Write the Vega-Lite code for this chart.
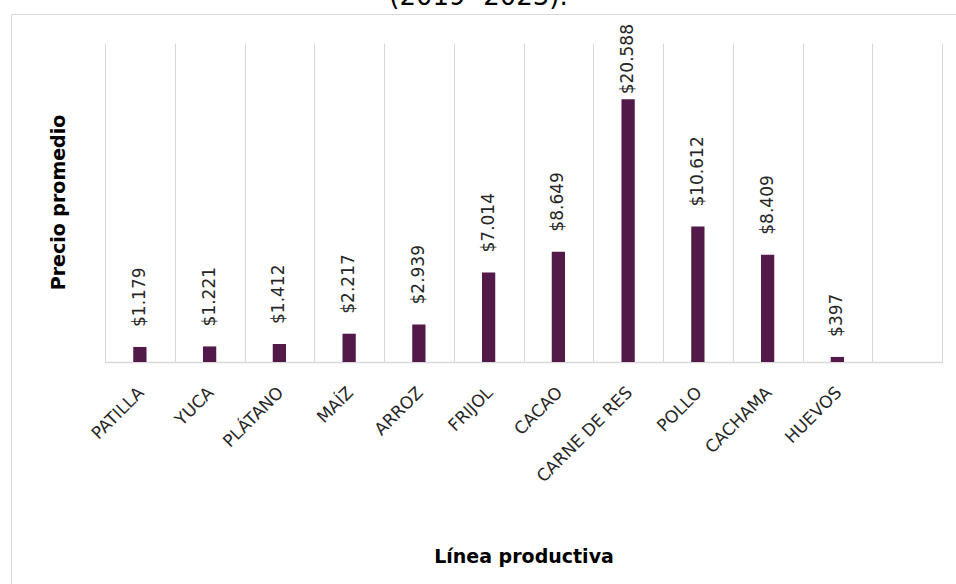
{
  "$schema": "https://vega.github.io/schema/vega-lite/v6.json",
  "width": 945,
  "height": 570,
  "autosize": {"type": "none"},
  "padding": {"left": 11, "top": 14, "right": 0, "bottom": 0},
  "background": "white",
  "title": {"text": "(2019 -2023).", "font": "DejaVu Sans", "fontSize": 26, "fontWeight": "normal", "color": "#000000", "anchor": "middle", "baseline": "bottom", "offset": -22, "dx": -5},
  "data": {"values": [
    {"linea": "PATILLA", "precio": 1179},
    {"linea": "YUCA", "precio": 1221},
    {"linea": "PLÁTANO", "precio": 1412},
    {"linea": "MAÍZ", "precio": 2217},
    {"linea": "ARROZ", "precio": 2939},
    {"linea": "FRIJOL", "precio": 7014},
    {"linea": "CACAO", "precio": 8649},
    {"linea": "CARNE DE RES", "precio": 20588},
    {"linea": "POLLO", "precio": 10612},
    {"linea": "CACHAMA", "precio": 8409},
    {"linea": "HUEVOS", "precio": 397}
  ]},
  "encoding": {
    "y": {
      "field": "precio", "type": "quantitative",
      "scale": {"domain": [0, 25000], "range": [348, 29], "nice": false, "zero": true},
      "axis": {"title": "Precio promedio", "labels": false, "ticks": false, "domain": false, "grid": false,
               "titleFont": "DejaVu Sans", "titleFontSize": 19, "titleFontWeight": "bold", "titleColor": "#000000",
               "titleAngle": -90, "titleX": 53, "titleY": 188, "titleAlign": "center", "titleBaseline": "alphabetic"}
    }
  },
  "layer": [
    {
      "mark": {"type": "bar", "color": "#521949", "width": {"band": 0.19}},
      "encoding": {
        "x": {
          "field": "linea", "type": "nominal", "sort": null,
          "scale": {"domain": ["PATILLA", "YUCA", "PLÁTANO", "MAÍZ", "ARROZ", "FRIJOL", "CACAO", "CARNE DE RES", "POLLO", "CACHAMA", "HUEVOS", " "],
                    "range": [94, 931], "paddingInner": 0, "paddingOuter": 0},
          "axis": {"orient": "bottom", "offset": -222, "title": "Línea productiva", "grid": false, "ticks": false,
                   "domain": true, "domainColor": "#d9d9d9", "domainWidth": 1.5,
                   "labelAngle": -45, "labelAlign": "right", "labelBaseline": "top", "labelPadding": 22, "labelOffset": -4,
                   "labelFont": "DejaVu Sans", "labelFontSize": 17, "labelColor": "#262626", "labelOverlap": false,
                   "titleFont": "DejaVu Sans", "titleFontSize": 19, "titleFontWeight": "bold", "titleColor": "#000000",
                   "titleX": 512.5, "titleY": 200, "titleAlign": "center", "titleBaseline": "alphabetic", "titleAngle": 0}
        }
      }
    },
    {
      "transform": [{"filter": "datum.precio <= 20000"}],
      "mark": {"type": "text", "angle": 270, "align": "left", "baseline": "middle", "dx": 20, "font": "DejaVu Sans", "fontSize": 17, "color": "#262626"},
      "encoding": {
        "x": {
          "field": "linea", "type": "nominal", "sort": null,
          "axis": {"orient": "top", "offset": 0, "title": null, "labels": false, "ticks": false, "domain": false,
                   "grid": true, "gridColor": "#d9d9d9", "gridWidth": 1, "tickBand": "extent"}
        },
        "text": {"field": "precio", "type": "quantitative", "format": "$,.0f"}
      }
    },
    {
      "transform": [{"filter": "datum.precio > 20000"}],
      "mark": {"type": "text", "angle": 270, "align": "left", "baseline": "middle", "dx": 5, "font": "DejaVu Sans", "fontSize": 17, "color": "#262626"},
      "encoding": {
        "x": {"field": "linea", "type": "nominal", "sort": null, "axis": null},
        "text": {"field": "precio", "type": "quantitative", "format": "$,.0f"}
      }
    }
  ],
  "resolve": {"axis": {"x": "independent"}},
  "config": {
    "view": {"stroke": "#d9d9d9", "strokeWidth": 1},
    "locale": {"number": {"decimal": ",", "thousands": ".", "grouping": [3], "currency": ["$", ""]}}
  }
}
